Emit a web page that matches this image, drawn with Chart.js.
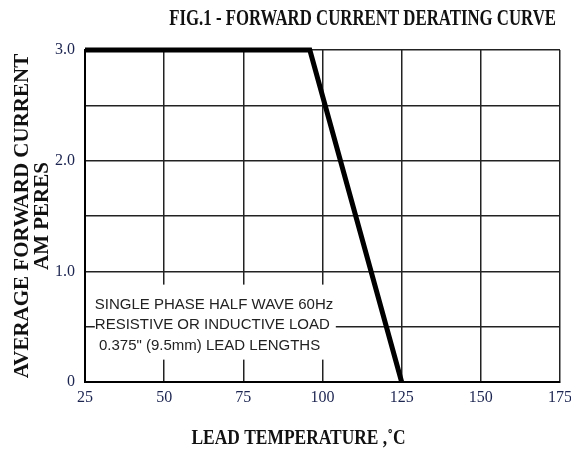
<!DOCTYPE html>
<html>
<head>
<meta charset="utf-8">
<script src="https://cdn.jsdelivr.net/npm/chart.js@4"></script>
<style>
  html, body { margin: 0; padding: 0; background: #fff; }
  #wrap { width: 571px; height: 455px; }
</style>
</head>
<body>
<div id="wrap"><canvas id="chart"></canvas></div>
<script>
// derating curve
const temps = [25, 96, 125];
const current = [3.0, 3.0, 0];
const xTicks = [25, 50, 75, 100, 125, 150, 175];
const yTicks = [0, 0.5, 1, 1.5, 2, 2.5, 3];
const titleText = "FIG.1 - FORWARD CURRENT DERATING CURVE";
const xTitleText = "LEAD TEMPERATURE ,˚C";
const noteLines = ["SINGLE PHASE HALF WAVE 60Hz", "RESISTIVE OR INDUCTIVE LOAD", " 0.375\" (9.5mm) LEAD LENGTHS"];

const tickColor = "#1c2450";
const serif = "'Liberation Serif', 'Times New Roman', serif";

// the scanned titles use a narrow bold serif, so squeeze the text sideways
function narrowText(ctx, text, x, y, size, squeeze, align) {
  ctx.save();
  ctx.translate(x, y);
  ctx.scale(squeeze, 1);
  ctx.font = "bold " + size + "px " + serif;
  ctx.fillStyle = "#111";
  ctx.textAlign = align;
  ctx.textBaseline = "middle";
  ctx.fillText(text, 0, 0);
  ctx.restore();
}

const labelsPlugin = {
  id: "labels",
  afterDraw(chart) {
    const { ctx, chartArea } = chart;
    narrowText(ctx, titleText, chartArea.right - 4, 19, 24, 0.7, "right");
    const mid = (chartArea.left + chartArea.right) / 2;
    narrowText(ctx, xTitleText, mid - 24, 439, 21, 0.83, "center");
  },
};

// note box with white background inside the plot
const notePlugin = {
  id: "note",
  afterDatasetsDraw(chart) {
    const { ctx, scales } = chart;
    const left = scales.x.getPixelForValue(28.1);
    const top = scales.y.getPixelForValue(0.88);
    ctx.save();
    ctx.fillStyle = "#fff";
    ctx.fillRect(left, top, 241, 75);
    ctx.fillStyle = "#222";
    ctx.font = "15px 'Liberation Sans', Arial, sans-serif";
    ctx.textBaseline = "middle";
    noteLines.forEach((line, i) => {
      ctx.fillText(line, left, top + 20 + i * 20.5);
    });
    ctx.restore();
  },
};

new Chart(document.getElementById("chart"), {
  type: "line",
  data: {
    datasets: [
      {
        data: temps.map((t, i) => ({ x: t, y: current[i] })),
        borderColor: "#000",
        borderWidth: 5,
        pointRadius: 0,
        tension: 0,
        clip: false,
      },
    ],
  },
  options: {
    responsive: true,
    maintainAspectRatio: false,
    animation: false,
    layout: { padding: { top: 50, right: 0 } },
    plugins: {
      legend: { display: false },
      tooltip: { enabled: false },
      title: { display: false },
    },
    scales: {
      x: {
        type: "linear",
        min: 25,
        max: 175,
        afterBuildTicks: (s) => { s.ticks = xTicks.map((v) => ({ value: v })); },
        afterFit: (s) => { s.height = 73; s.paddingRight = 11; },
        ticks: {
          color: tickColor,
          padding: 6,
          font: { family: serif, size: 16 },
        },
        grid: { color: "#222", lineWidth: 1.5, drawTicks: false },
        border: { color: "#000", width: 2 },
      },
      y: {
        min: 0,
        max: 3,
        afterBuildTicks: (s) => { s.ticks = yTicks.map((v) => ({ value: v })); },
        afterFit: (s) => { s.width = 85; },
        ticks: {
          color: tickColor,
          padding: 10,
          font: { family: serif, size: 16 },
          callback: (v) => (v % 1 === 0 ? (v === 0 ? "0" : v.toFixed(1)) : ""),
        },
        grid: { color: "#222", lineWidth: 1.5, drawTicks: false },
        border: { color: "#000", width: 2 },
        title: {
          display: true,
          text: ["AVERAGE FORWARD CURRENT", "AM PERES"],
          color: "#111",
          font: { family: serif, size: 21, weight: "bold", lineHeight: 0.95 },
          padding: { top: 13, bottom: 0 },
        },
      },
    },
  },
  plugins: [notePlugin, labelsPlugin],
});
</script>
</body>
</html>
